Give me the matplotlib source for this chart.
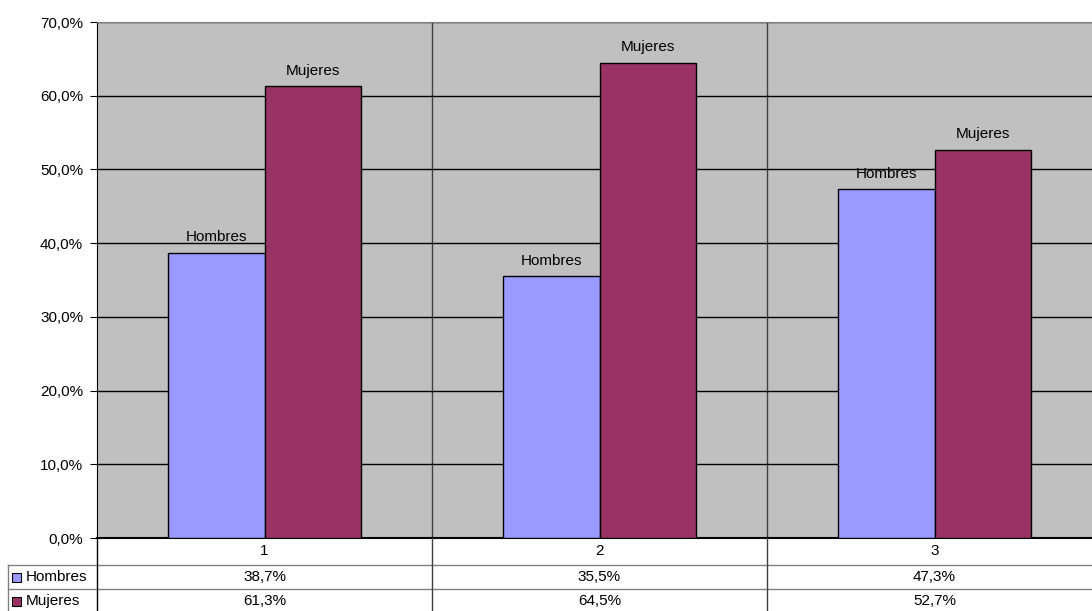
import numpy as np
import matplotlib
matplotlib.use('Agg')
import matplotlib.pyplot as plt
from matplotlib.patches import Rectangle

plt.rcParams['font.family'] = ['Liberation Sans', 'DejaVu Sans']
plt.rcParams['font.size'] = 11

# datos
categorias = ['1', '2', '3']
hombres = [38.7, 35.5, 47.3]
mujeres = [61.3, 64.5, 52.7]
series = ['Hombres', 'Mujeres']
colores = ['#9999FF', '#993366']

fig = plt.figure(figsize=(10.92, 6.11), dpi=100)
ax = fig.add_axes([97/1092, 73/611, 1005/1092, 516/611])
ax.set_facecolor('#C0C0C0')

x = np.arange(len(categorias))
w = 0.287
b1 = ax.bar(x - w/2, hombres, w, color=colores[0], edgecolor='black', linewidth=1, zorder=3)
b2 = ax.bar(x + w/2, mujeres, w, color=colores[1], edgecolor='black', linewidth=1, zorder=3)

for bars, nombre in zip([b1, b2], series):
    for r in bars:
        ax.annotate(nombre, (r.get_x() + r.get_width()/2, r.get_height()),
                    xytext=(0, 6), textcoords='offset points',
                    ha='center', va='bottom', zorder=4)

ax.set_xlim(-0.5, len(categorias) - 0.5)
ax.set_ylim(0, 70)
ax.set_yticks(np.arange(0, 71, 10))
ax.set_yticklabels([f'{v:.1f}%'.replace('.', ',') for v in np.arange(0, 71, 10)])
ax.yaxis.grid(True, color='black', linewidth=1, zorder=1)
for xv in np.arange(0.5, len(categorias) - 0.5, 1):
    ax.axvline(xv, color='#404040', linewidth=1, zorder=1)
ax.set_xticks([])
ax.tick_params(axis='y', length=5, color='black', pad=5)

for s in ['top', 'right']:
    ax.spines[s].set_color('#808080')
ax.spines['left'].set_color('black')
ax.spines['bottom'].set_color('black')
ax.spines['bottom'].set_linewidth(1.5)

# tabla de datos debajo
tr = ax.get_xaxis_transform()
px = 1 / 516  # un pixel en fraccion del eje
fila_cat = -13 * px
fila_h = -39 * px
fila_m = -63 * px
linea1 = -27 * px
linea2 = -51 * px
gris = '#808080'

for i, c in enumerate(categorias):
    ax.text(i, fila_cat, c, transform=tr, ha='center', va='center', clip_on=False)
    ax.text(i, fila_h, f'{hombres[i]:.1f}%'.replace('.', ','), transform=tr,
            ha='center', va='center', clip_on=False)
    ax.text(i, fila_m, f'{mujeres[i]:.1f}%'.replace('.', ','), transform=tr,
            ha='center', va='center', clip_on=False)

# lineas de la tabla en coordenadas de figura
def fy(v):
    return (73 + v * 516) / 611

for yv in [linea1, linea2]:
    fig.add_artist(plt.Line2D([8/1092, 1], [fy(yv), fy(yv)], color=gris, linewidth=1))
fig.add_artist(plt.Line2D([8/1092, 8/1092], [0, fy(linea1)], color=gris, linewidth=1))
fig.add_artist(plt.Line2D([97/1092, 97/1092], [0, 73/611], color='black', linewidth=1))
for xv in np.arange(0.5, len(categorias) - 0.5, 1):
    xf = (97 + (xv + 0.5) * 335) / 1092
    fig.add_artist(plt.Line2D([xf, xf], [0, 73/611], color='#404040', linewidth=1))

# leyenda en la tabla
for nombre, col, yv in zip(series, colores, [fila_h, fila_m]):
    yc = fy(yv)
    fig.add_artist(Rectangle((12/1092, yc - 4.5/611), 9/1092, 9/611,
                             facecolor=col, edgecolor='black', linewidth=0.8))
    fig.text(26/1092, yc, nombre, ha='left', va='center')

fig.savefig('out.png', dpi=100)
